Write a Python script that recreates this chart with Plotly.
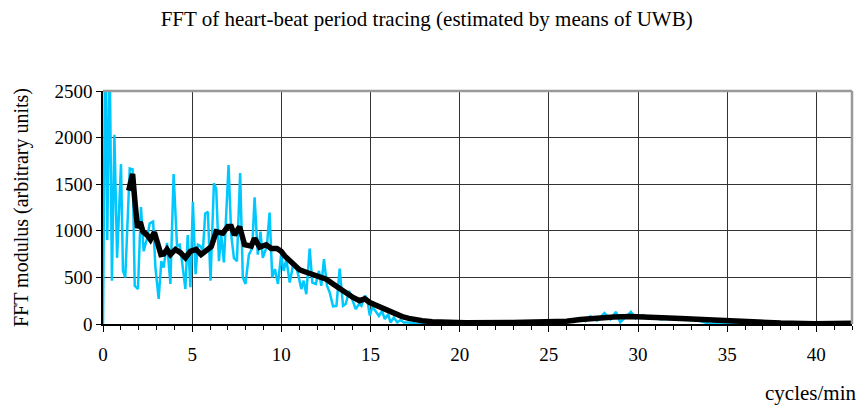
import plotly.graph_objects as go

# Raw FFT modulus (cyan)
raw_x = [0.00, 0.13, 0.24, 0.37, 0.50, 0.64, 0.79, 1.01, 1.12, 1.25, 1.50, 1.66, 1.78, 1.96,
         2.13, 2.28, 2.47, 2.62, 2.81, 2.94, 3.12, 3.27, 3.40, 3.59, 3.78, 3.96, 4.15, 4.30,
         4.43, 4.62, 4.75, 4.90, 5.04, 5.19, 5.32, 5.47, 5.60, 5.73, 5.88, 6.03, 6.22, 6.35,
         6.50, 6.63, 6.78, 7.04, 7.19, 7.34, 7.51, 7.69, 7.84, 7.99, 8.18, 8.37, 8.50, 8.68,
         8.83, 8.96, 9.19, 9.34, 9.49, 9.64, 9.81, 9.99, 10.13, 10.28, 10.47, 10.65, 10.80,
         10.94, 11.12, 11.25, 11.40, 11.59, 11.74, 11.93, 12.11, 12.24, 12.39, 12.56, 12.71,
         12.90, 13.09, 13.27, 13.46, 13.61, 13.80, 13.98, 14.17, 14.36, 14.49, 14.68, 14.81,
         14.96, 15.11, 15.28, 15.47, 15.65, 15.80, 15.99, 16.12, 16.31, 16.50, 16.68, 16.87,
         17.15, 17.52, 18.5, 19.5, 20.5, 21.5, 22.5, 23.5, 24.9, 25.65, 26.1, 26.4, 26.77,
         27.05, 27.33, 27.7, 28.12, 28.45, 28.77, 29.0, 29.6, 29.86, 30.3, 30.6, 30.9, 31.26,
         31.6, 32.2, 32.75, 33.3, 34.06, 34.4, 35.5, 37.0, 38.5, 40.0, 41.0, 42.0]
raw_y = [0, 3200, 900, 3000, 465, 2030, 710, 1715, 570, 500, 1670, 1660, 410, 375,
         1255, 780, 920, 1080, 1100, 605, 270, 675, 605, 870, 430, 1610, 835, 850,
         675, 375, 955, 395, 1310, 535, 850, 835, 780, 1185, 1205, 465, 1510, 1450,
         675, 955, 660, 1705, 955, 710, 675, 1620, 500, 430, 745, 815, 1360, 745,
         990, 710, 835, 1195, 500, 590, 430, 745, 570, 695, 445, 625, 625,
         535, 375, 465, 320, 810, 445, 430, 570, 410, 695, 410, 340,
         190, 195, 595, 195, 215, 355, 270, 160, 215, 195, 305, 270,
         90, 185, 140, 87, 140, 52, 105, 17, 70, 17, 42, 17,
         15, 5, 4, 6, 3, 5, 4, 6, 10, 15, 44, 20, 55,
         30, 81, 35, 118, 50, 130, 18, 130, 60, 95, 60, 80, 50,
         60, 45, 70, 40, 0, 10, 5, 3, 4, 2, 3, 2]

# Smoothed curve (black)
smooth_x = [1.44, 1.66, 1.81, 1.94, 2.09, 2.24, 2.47, 2.66, 2.88, 3.07, 3.25, 3.40, 3.59,
            3.78, 4.06, 4.34, 4.62, 4.90, 5.22, 5.50, 5.88, 6.07, 6.35, 6.53, 6.72, 7.00,
            7.19, 7.37, 7.66, 7.94, 8.31, 8.50, 8.78, 9.15, 9.43, 9.75, 9.99, 10.19, 10.47,
            10.75, 11.03, 11.40, 11.78, 12.15, 12.52, 12.90, 13.27, 13.65, 14.02, 14.39,
            14.68, 14.96, 15.19, 15.47, 15.75, 16.03, 16.40, 16.78, 17.15, 17.52, 17.90,
            18.46, 19.39, 20.33, 23.0, 24.9, 26.0, 26.77, 27.7, 28.64, 29.6, 30.5, 31.45,
            32.4, 33.3, 34.25, 35.0, 36.1, 38.0, 39.9, 42.0]
smooth_y = [1430, 1610, 1275, 1030, 1095, 990, 955, 905, 985, 850, 745, 750, 800,
            745, 800, 765, 710, 780, 800, 745, 815, 830, 990, 975, 975, 1045,
            1045, 955, 1045, 850, 835, 920, 825, 850, 810, 810, 780, 730, 680,
            625, 580, 555, 525, 510, 480, 430, 380, 330, 285, 250,
            270, 230, 210, 192, 157, 140, 105, 80, 60, 45, 35,
            25, 17, 14, 15, 18, 30, 48, 67, 74, 81, 78, 67,
            60, 50, 40, 30, 18, 11, 4, 7]

title_text = "FFT of heart-beat period tracing (estimated by means of UWB)"
y_title = "FFT modulus (arbitrary units)"
x_title = "cycles/min"

FONT = "Liberation Serif"

fig = go.Figure()
fig.add_trace(go.Scatter(x=raw_x, y=raw_y, mode="lines",
                         line=dict(color="#00C8FF", width=2.5), showlegend=False))
fig.add_trace(go.Scatter(x=smooth_x, y=smooth_y, mode="lines",
                         line=dict(color="black", width=5.5), showlegend=False))

fig.update_layout(
    width=862, height=407,
    margin=dict(l=103, r=10, t=91, b=83),
    paper_bgcolor="white", plot_bgcolor="white",
    font=dict(family=FONT, size=19, color="black"),
    title=dict(text=title_text, x=0.495, xref="container", y=0.953, yref="container",
               xanchor="center", yanchor="middle", font=dict(family=FONT, size=21)),
)
fig.update_xaxes(range=[0, 42], tick0=0, dtick=5, showgrid=True, gridcolor="#333", gridwidth=1,
                 showline=True, linecolor="black", linewidth=1.5,
                 ticks="outside", ticklen=6, tickcolor="black",
                 tickfont=dict(family=FONT, size=19),
                 minor=dict(dtick=1, ticks="outside", ticklen=4, tickcolor="black", showgrid=False),
                 zeroline=False, ticklabelstandoff=6)
fig.update_yaxes(range=[0, 2500], dtick=500, showgrid=True, gridcolor="#333", gridwidth=1,
                 showline=True, linecolor="black", linewidth=1.5,
                 ticks="outside", ticklen=5, tickcolor="black", zeroline=False,
                 tickfont=dict(family=FONT, size=19),
                 title=dict(text=y_title, standoff=20, font=dict(family=FONT, size=20)))
# gray top and right border of plot area
fig.add_shape(type="line", xref="paper", yref="paper", x0=0, x1=1, y0=1, y1=1,
              line=dict(color="#999", width=2.5))
fig.add_shape(type="line", xref="paper", yref="paper", x0=1, x1=1, y0=0, y1=1,
              line=dict(color="#999", width=2.5))
fig.add_annotation(text=x_title, xref="paper", yref="paper", x=1.008, y=-0.297,
                   xanchor="right", yanchor="middle", showarrow=False,
                   font=dict(family=FONT, size=21))
fig.write_html("out.html")
